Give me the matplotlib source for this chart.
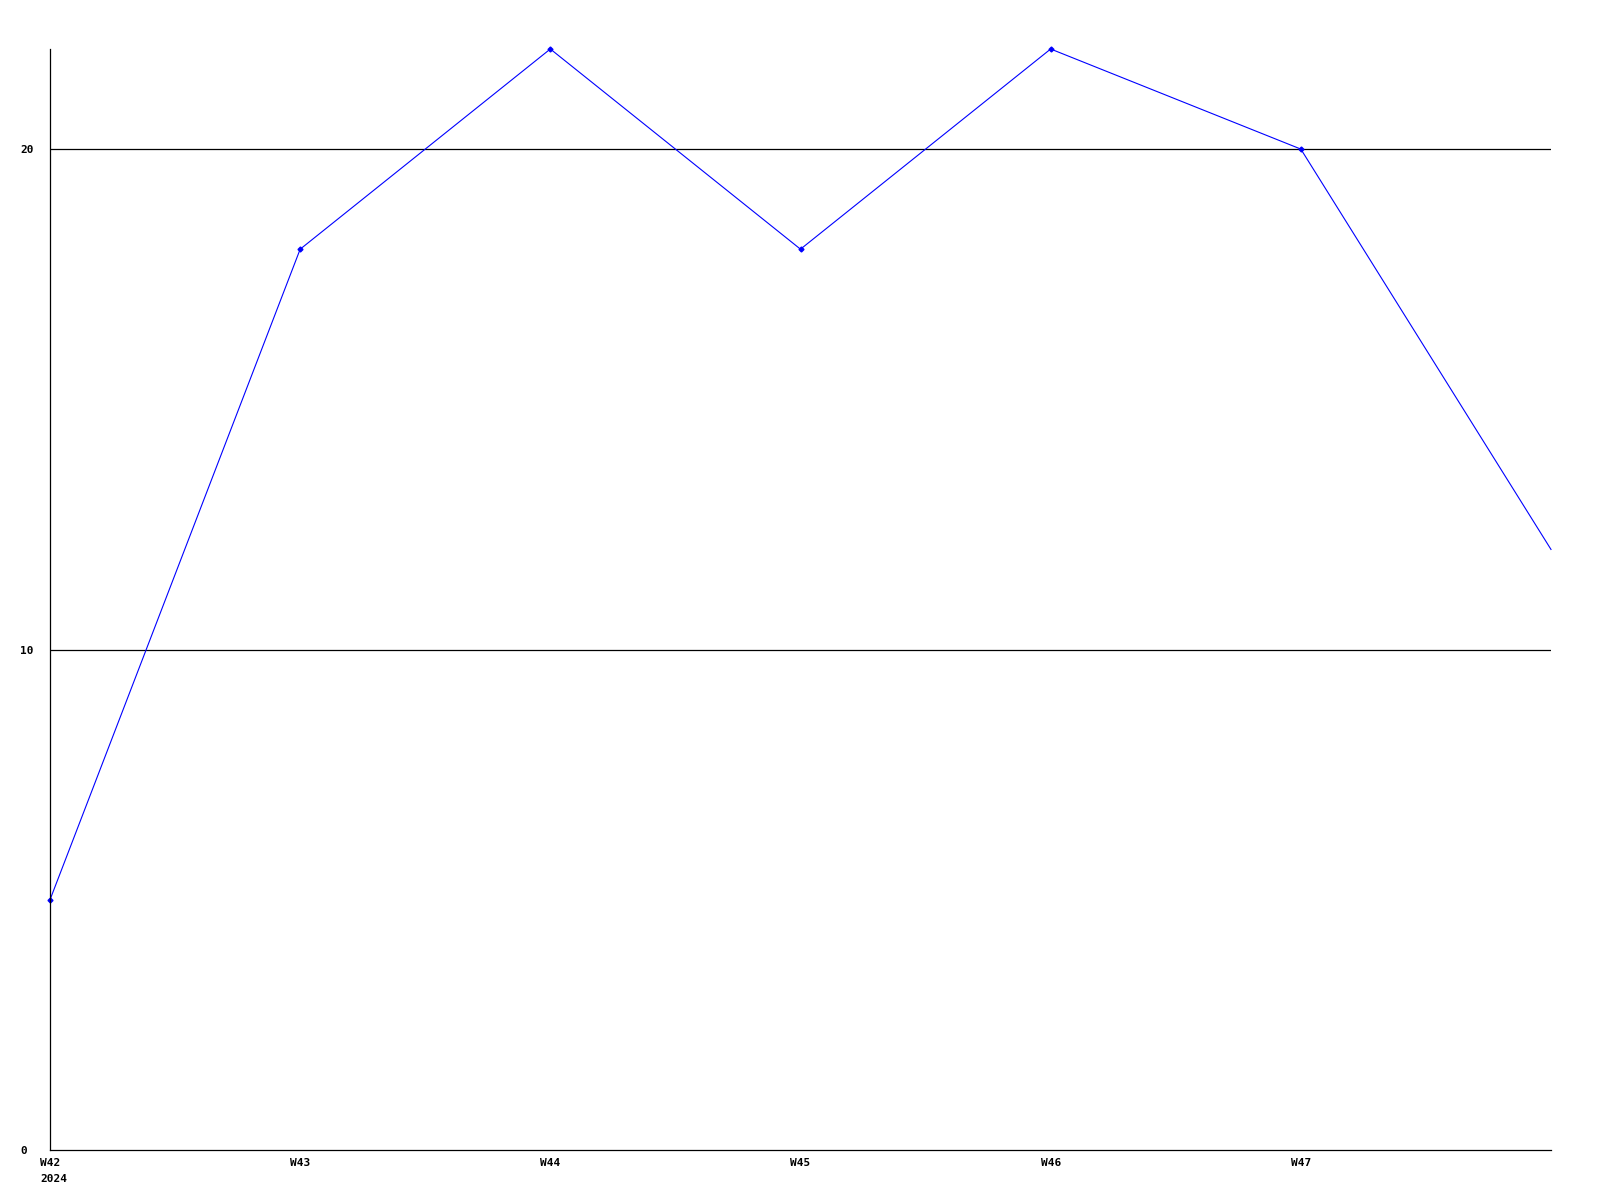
import matplotlib
matplotlib.use("Agg")
import matplotlib.pyplot as plt

weeks = ["W42", "W43", "W44", "W45", "W46", "W47", "W48"]
values = [5, 18, 22, 18, 22, 20, 12]
tick_labels = ["W42", "W43", "W44", "W45", "W46", "W47"]
year_label = "2024"
y_ticks = [0, 10, 20]

fig = plt.figure(figsize=(16, 12), dpi=100)
ax = fig.add_axes([50 / 1600, 1 - 1150 / 1200, 1501 / 1600, 1101 / 1200])

x = list(range(len(weeks)))
ax.plot(x, values, color="#0000ff", lw=0.8, marker="D", ms=2.5,
        markevery=list(range(len(weeks) - 1)), clip_on=False)

ax.set_xlim(0, len(weeks) - 1)
ax.set_ylim(0, 22)

for v in y_ticks[1:]:
    ax.axhline(v, color="black", lw=0.9, zorder=0)

font = dict(family="DejaVu Sans Mono", weight="bold", size=8)
ax.set_yticks(y_ticks)
ax.set_yticklabels([str(v) for v in y_ticks], **font)
ax.set_xticks(x[:-1])
ax.set_xticklabels(tick_labels, **font, ha="center")
ax.tick_params(axis="both", length=0)
ax.tick_params(axis="y", pad=21.5)
ax.tick_params(axis="x", pad=6)
for lbl in ax.get_yticklabels():
    lbl.set_horizontalalignment("left")

# year under the first week label, left-aligned with it
ax.annotate(year_label, xy=(0, 0), xycoords="data", xytext=(-7.2, -17),
            textcoords="offset points", ha="left", va="top", **font,
            annotation_clip=False)

for s in ["top", "right"]:
    ax.spines[s].set_visible(False)
for s in ["left", "bottom"]:
    ax.spines[s].set_linewidth(0.9)

fig.savefig("out.png", dpi=100)
